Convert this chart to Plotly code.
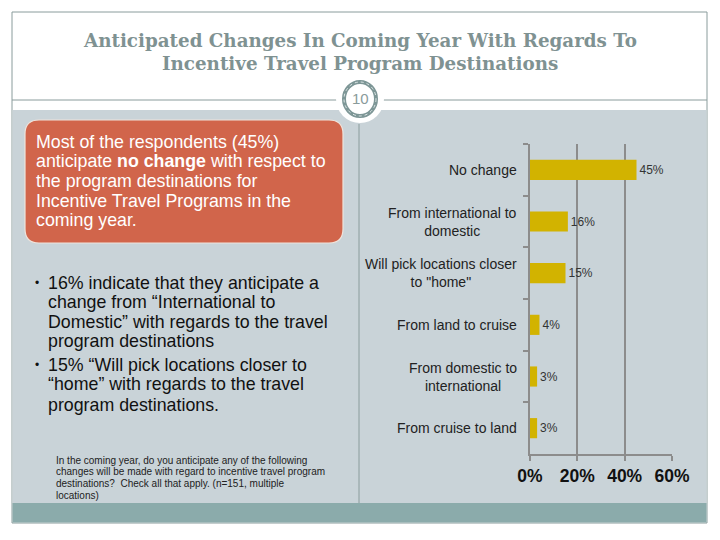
import plotly.graph_objects as go

# ---- data ----
categories = [
    "No change",
    "From international to<br>domestic",
    "Will pick locations closer<br>to \"home\"",
    "From land to cruise",
    "From domestic to<br>international",
    "From cruise to land",
]
values = [45, 16, 15, 4, 3, 3]
value_labels = ["45%", "16%", "15%", "4%", "3%", "3%"]
x_ticks = [0, 20, 40, 60]
x_tick_labels = ["0%", "20%", "40%", "60%"]

title_lines = [
    "Anticipated Changes In Coming Year With Regards To",
    "Incentive Travel Program Destinations",
]
box_lines = [
    "Most of the respondents (45%)",
    "anticipate <b>no change</b> with respect to",
    "the program destinations for",
    "Incentive Travel Programs in the",
    "coming year.",
]
bullet_lines = [
    ("•", "16% indicate that they anticipate a"),
    ("", "change from \u201cInternational to"),
    ("", "Domestic\u201d with regards to the travel"),
    ("", "program destinations"),
    ("•", "15% \u201cWill pick locations closer to"),
    ("", "\u201chome\u201d with regards to the travel"),
    ("", "program destinations."),
]
footnote_lines = [
    "In the coming year, do you anticipate any of the following",
    "changes will be made with regard to incentive travel program",
    "destinations?  Check all that apply. (n=151, multiple",
    "locations)",
]

# the page body has an 8px margin; the figure is sized to fill the rest of the window
OFF = 8
W, H = 720 - OFF, 540 - OFF


def px(x):
    return (x - OFF) / W


def py(y):
    return 1 - (y - OFF) / H


FONT = "Arial, Liberation Sans, sans-serif"
PANEL = "#C9D3D8"
BORDER = "#8A9C9C"
GRID = "#8C8C8C"

fig = go.Figure()
fig.add_trace(go.Bar(
    x=values, y=categories, orientation="h",
    marker=dict(color="#D2B300", line=dict(width=0)),
    width=0.39,
    text=value_labels, textposition="outside",
    textfont=dict(family=FONT, size=12, color="#333333"),
    cliponaxis=False, hoverinfo="skip",
))

shapes = []
shapes.append(dict(type="rect", xref="paper", yref="paper",
                   x0=px(12), x1=px(707), y0=py(523), y1=py(12),
                   line=dict(color=BORDER, width=1), fillcolor="white", layer="below"))
shapes.append(dict(type="rect", xref="paper", yref="paper",
                   x0=px(12.5), x1=px(706.5), y0=py(503), y1=py(110),
                   line=dict(width=0), fillcolor=PANEL, layer="below"))
shapes.append(dict(type="rect", xref="paper", yref="paper",
                   x0=px(12.5), x1=px(706.5), y0=py(522.5), y1=py(503),
                   line=dict(width=0), fillcolor="#8BABAB", layer="below"))
shapes.append(dict(type="line", xref="paper", yref="paper",
                   x0=px(12), x1=px(707), y0=py(100), y1=py(100),
                   line=dict(color=BORDER, width=1), layer="below"))
shapes.append(dict(type="line", xref="paper", yref="paper",
                   x0=px(359), x1=px(359), y0=py(124), y1=py(503),
                   line=dict(color=BORDER, width=1), layer="below"))
shapes.append(dict(type="circle", xref="paper", yref="paper",
                   x0=px(360 - 24), x1=px(360 + 24), y0=py(99 + 24), y1=py(99 - 24),
                   line=dict(width=0), fillcolor="white", layer="below"))
shapes.append(dict(type="circle", xref="paper", yref="paper",
                   x0=px(360 - 16), x1=px(360 + 16), y0=py(99 + 17), y1=py(99 - 17),
                   line=dict(color="#7D9696", width=4), fillcolor="white", layer="below"))
shapes.append(dict(type="circle", xref="paper", yref="paper",
                   x0=px(360 - 16), x1=px(360 + 16), y0=py(99 + 17), y1=py(99 - 17),
                   line=dict(color="#DDE6E6", width=1, dash="dot"), layer="below"))

x0, x1, y0, y1, r = px(25), px(343), py(243), py(120), 14
rx, ry = r / W, r / H
path = (f"M {x0+rx},{y0} L {x1-rx},{y0} Q {x1},{y0} {x1},{y0+ry} "
        f"L {x1},{y1-ry} Q {x1},{y1} {x1-rx},{y1} "
        f"L {x0+rx},{y1} Q {x0},{y1} {x0},{y1-ry} "
        f"L {x0},{y0+ry} Q {x0},{y0} {x0+rx},{y0} Z")
shapes.append(dict(type="path", xref="paper", yref="paper", path=path,
                   fillcolor="#D1654B", line=dict(color="#EFE4DC", width=1.2), layer="below"))

annotations = []
for i, t in enumerate(title_lines):
    annotations.append(dict(text=t, x=px(360), y=py(40 + 23 * i), xref="paper", yref="paper",
                            xanchor="center", yanchor="middle", showarrow=False,
                            font=dict(family="DejaVu Serif, Liberation Serif, serif", size=18.3,
                                      weight="bold", color="#7F9292")))
annotations.append(dict(text="10", x=px(360), y=py(99), xref="paper", yref="paper",
                        xanchor="center", yanchor="middle", showarrow=False,
                        font=dict(family=FONT, size=15, color="#8A9B9B")))
for i, t in enumerate(box_lines):
    annotations.append(dict(text=t, x=px(34), y=py(142 + 19.5 * i), xref="paper", yref="paper",
                            xanchor="left", yanchor="middle", showarrow=False,
                            font=dict(family=FONT, size=17.8, color="white")))
bullet_y = [283, 302, 322, 341, 365, 384, 405]
for (b, t), yy in zip(bullet_lines, bullet_y):
    if b:
        annotations.append(dict(text=b, x=px(33), y=py(yy), xref="paper", yref="paper",
                                xanchor="left", yanchor="middle", showarrow=False,
                                font=dict(family=FONT, size=12, color="#111111")))
    annotations.append(dict(text=t, x=px(46), y=py(yy), xref="paper", yref="paper",
                            xanchor="left", yanchor="middle", showarrow=False,
                            font=dict(family=FONT, size=17.8, color="#111111")))
for i, t in enumerate(footnote_lines):
    annotations.append(dict(text=t, x=px(54), y=py(460 + 11.7 * i), xref="paper", yref="paper",
                            xanchor="left", yanchor="middle", showarrow=False,
                            font=dict(family=FONT, size=10, color="#222222")))
for c in categories:
    annotations.append(dict(text=c, x=px(519), y=c, xref="paper", yref="y",
                            xanchor="right", yanchor="middle", align="center", showarrow=False,
                            font=dict(family=FONT, size=14, color="#222222")))

fig.update_layout(
    width=W, height=H, autosize=False,
    margin=dict(l=0, r=0, t=0, b=0, pad=0, autoexpand=False),
    paper_bgcolor="white", plot_bgcolor="rgba(0,0,0,0)",
    showlegend=False,
    shapes=shapes, annotations=annotations,
    xaxis=dict(domain=[px(530), px(672)], range=[0, 60], tickvals=x_ticks, ticktext=x_tick_labels,
               showgrid=True, gridcolor=GRID, gridwidth=2, zeroline=False,
               showline=True, linecolor=GRID, linewidth=2, automargin=False,
               ticks="outside", ticklen=5, tickcolor=GRID, tickwidth=2,
               tickfont=dict(family=FONT, size=17.5, color="#111111", weight="bold"),
               fixedrange=True),
    yaxis=dict(domain=[py(454), py(144)], autorange="reversed", type="category",
               showgrid=False, zeroline=False, showline=True, linecolor=GRID, linewidth=2,
               automargin=False,
               ticks="outside", tickson="boundaries", ticklen=5, tickcolor=GRID, tickwidth=2,
               showticklabels=False, fixedrange=True),
)

fig.write_html("out.html", config={"displayModeBar": False})
